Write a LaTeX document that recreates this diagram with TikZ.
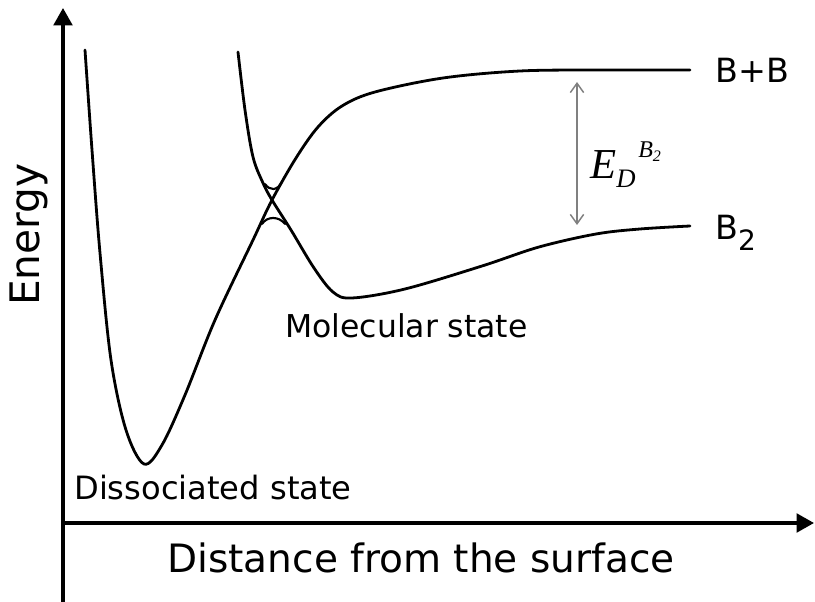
\documentclass[tikz,border=0pt]{standalone}
\usepackage{fontspec}
\setmainfont{DejaVu Sans}
\newfontfamily\serifit{Liberation Serif}
\usetikzlibrary{arrows.meta}
\begin{document}
\begin{tikzpicture}[x=0.75pt,y=-0.75pt,
  axis/.style={line width=2.3pt, -{Triangle[length=13pt,width=14pt]}},
  curve/.style={line width=2.1pt, line join=round, line cap=round},
  thin curve/.style={line width=1.6pt, line cap=round},
  gaparrow/.style={draw=black!50, line width=1.1pt, {Straight Barb[length=7pt,width=10pt]}-{Straight Barb[length=7pt,width=10pt]}},
  lbl/.style={inner sep=0pt, font=\fontsize{23.6}{28}\selectfont},
  axlbl/.style={inner sep=0pt, font=\fontsize{29.3}{33}\selectfont},
  lvl/.style={inner sep=0pt, font=\fontsize{25}{30}\selectfont}
]
\useasboundingbox (0,0) rectangle (815,602);

% axes
\coordinate (O) at (63,523);
\coordinate (ybot) at (63,602);
\coordinate (ytop) at (63,8);
\coordinate (xend) at (814,523);
\draw[axis] (ybot) -- (ytop);
\draw[axis] (O) -- (xend);

% dissociated curve
\draw[curve] plot[smooth, tension=0.55] coordinates {
  (85,50) (92,150) (100,253) (111,360) (126,430) (144,464) (162,445) (185,395)
  (215,320) (253,240) (272,200) (296,158) (318,127) (342,106) (375,92) (443,78) (520,71) (600,70) (690,70)};

% molecular curve
\draw[curve] plot[smooth, tension=0.55] coordinates {
  (238,52) (245,110) (253,157) (263,183) (272,200) (291,230) (314,268) (333,292)
  (352,298) (405,289) (482,266) (539,247) (596,234) (640,229) (690,226)};

% avoided-crossing arcs
\draw[thin curve] (265,184) .. controls (270,191) and (277,191) .. (282,182);
\draw[thin curve] (262,224) .. controls (267,216) and (279,216) .. (285,224);

% dissociation energy arrow
\coordinate (eTop) at (577,82);
\coordinate (eBot) at (577,225);
\draw[gaparrow] (eTop) -- (eBot);
\node[inner sep=0pt, anchor=base west] (ed) at (590,179)
  {\serifit\itshape\fontsize{32}{34}\selectfont E\raisebox{-6.75pt}{\fontsize{20}{22}\selectfont D}\hspace{2pt}\raisebox{16pt}{\fontsize{18}{20}\selectfont B\raisebox{-3pt}{\fontsize{12}{13}\selectfont 2}}};

% labels
\node[lvl, anchor=base west] (bb) at (715,83) {B+B};
\node[lvl, anchor=base west] (b2) at (715,240) {B\raisebox{-8pt}{\fontsize{21}{24}\selectfont 2}};
\node[lbl, anchor=base west, font=\fontsize{24.1}{28}\selectfont] (dis) at (74,500) {Dissociated state};
\node[lbl, anchor=base west] (mol) at (285,338) {Molecular state};
\node[axlbl, anchor=base west] (dist) at (167,573) {Distance from the surface};
\node[axlbl, anchor=base west, rotate=90, font=\fontsize{30.5}{34}\selectfont] (en) at (40,306) {Energy};
\end{tikzpicture}
\end{document}
